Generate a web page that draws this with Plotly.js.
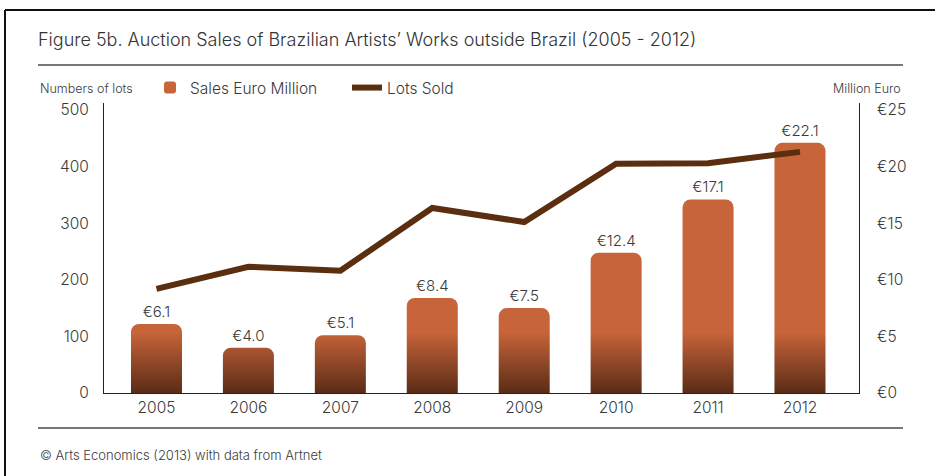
<!DOCTYPE html>
<html>
<head>
<meta charset="utf-8">
<script src="https://cdn.plot.ly/plotly-3.0.1.min.js"></script>
<style>
html,body{margin:0;padding:0;background:#fff;}
#chart{width:935px;height:476px;}
</style>
</head>
<body>
<div id="chart"></div>
<script>
const years = ["2005","2006","2007","2008","2009","2010","2011","2012"];
const salesEuroMillion = [6.1, 4.0, 5.1, 8.4, 7.5, 12.4, 17.1, 22.1];
const lotsSold = [184, 223, 216, 327, 302, 405, 406, 426];
const lotTicks = [0, 100, 200, 300, 400, 500];
const euroTicks = [0, 5, 10, 15, 20, 25];
const euroTickLabels = ["€0", "€5", "€10", "€15", "€20", "€25"];

const FONT = "Inter, 'Open Sans', sans-serif";
const TXT = "#3a3a3a";

// pixel helpers for paper coordinates (plot area: x 104..859, y 103..393)
const L = 104, R = 859, T = 103, B = 393;
const px = x => (x - L) / (R - L);
const py = y => (B - y) / (B - T);

const traces = [
  {
    type: "bar",
    name: "Sales Euro Million",
    x: years,
    y: salesEuroMillion,
    yaxis: "y",
    marker: {color: "#C8643A", cornerradius: 8, line: {width: 0}},
    text: salesEuroMillion.map(v => "€" + v.toFixed(1)),
    textposition: "outside",
    textfont: {family: FONT, size: 15, color: TXT, weight: 300},
    cliponaxis: false,
    hoverinfo: "skip"
  },
  {
    type: "scatter",
    mode: "lines",
    name: "Lots Sold",
    x: years,
    y: lotsSold,
    yaxis: "y2",
    line: {color: "#5A2E0E", width: 6},
    hoverinfo: "skip"
  }
];

const lineShape = (x0, y0, x1, y1, color, w) => ({
  type: "line", xref: "paper", yref: "paper",
  x0: px(x0), y0: py(y0), x1: px(x1), y1: py(y1),
  line: {color: color, width: w}
});

const layout = {
  width: 935, height: 476,
  margin: {l: L, r: 935 - R, t: T, b: 476 - B, pad: 0},
  paper_bgcolor: "#fff", plot_bgcolor: "rgba(0,0,0,0)",
  font: {family: FONT, color: TXT},
  showlegend: true,
  bargap: 0.445,
  title: {
    text: "Figure 5b. Auction Sales of Brazilian Artists’ Works outside Brazil (2005 - 2012)",
    font: {family: FONT, size: 18, color: "#333", weight: 300},
    x: 38 / 935, xanchor: "left", xref: "container",
    y: 1 - 40 / 476, yanchor: "middle", yref: "container"
  },
  legend: {
    orientation: "h",
    x: px(150), xanchor: "left",
    y: py(88), yanchor: "middle",
    font: {family: FONT, size: 15.5, color: TXT, weight: 300},
    bgcolor: "rgba(0,0,0,0)",
    traceorder: "normal",
    entrywidth: 152, entrywidthmode: "pixels"
  },
  xaxis: {
    type: "category",
    range: [-0.571, 7.642],
    showline: true, linecolor: "#222", linewidth: 1,
    ticks: "", showgrid: false, zeroline: false,
    tickfont: {family: FONT, size: 15.5, color: TXT, weight: 300},
    fixedrange: true
  },
  yaxis: {
    side: "right",
    range: [0, 25 * 290 / 283],
    tickvals: euroTicks, ticktext: euroTickLabels,
    showline: true, linecolor: "#222", linewidth: 1,
    ticks: "outside", ticklen: 14, tickcolor: "rgba(0,0,0,0)",
    showgrid: false, zeroline: false,
    tickfont: {family: FONT, size: 15.5, color: TXT, weight: 300},
    fixedrange: true
  },
  yaxis2: {
    overlaying: "y", side: "left",
    range: [0, 500 * 290 / 283],
    tickvals: lotTicks,
    showline: true, linecolor: "#222", linewidth: 1,
    ticks: "outside", ticklen: 11, tickcolor: "rgba(0,0,0,0)",
    showgrid: false, zeroline: false,
    tickfont: {family: FONT, size: 15.5, color: TXT, weight: 300},
    fixedrange: true
  },
  shapes: [
    lineShape(5, 10, 935, 10, "#111", 2),
    lineShape(5, 10, 5, 476, "#111", 2),
    lineShape(38, 65, 903, 65, "#777", 2),
    lineShape(38, 428, 903, 428, "#777", 2)
  ],
  annotations: [
    {text: "Numbers of lots", xref: "paper", yref: "paper", x: px(38), y: py(89),
     xanchor: "left", yanchor: "middle", showarrow: false,
     font: {family: FONT, size: 12.5, color: TXT, weight: 300}},
    {text: "Million Euro", xref: "paper", yref: "paper", x: px(903), y: py(89),
     xanchor: "right", yanchor: "middle", showarrow: false,
     font: {family: FONT, size: 12.5, color: TXT, weight: 300}},
    {text: "© Arts Economics (2013) with data from Artnet", xref: "paper", yref: "paper",
     x: px(38), y: py(455), xanchor: "left", yanchor: "middle", showarrow: false,
     font: {family: FONT, size: 13, color: TXT, weight: 300}}
  ]
};

Plotly.newPlot("chart", traces, layout, {displayModeBar: false, staticPlot: true}).then(gd => {
  const ya = gd._fullLayout.yaxis;
  const svg = gd.querySelector(".main-svg");
  const NS = "http://www.w3.org/2000/svg";
  let defs = svg.querySelector("defs");
  if (!defs) { defs = document.createElementNS(NS, "defs"); svg.insertBefore(defs, svg.firstChild); }
  const g = document.createElementNS(NS, "linearGradient");
  g.setAttribute("id", "barGrad");
  g.setAttribute("gradientUnits", "userSpaceOnUse");
  g.setAttribute("x1", "0"); g.setAttribute("x2", "0");
  g.setAttribute("y1", String(ya.l2p(5.4)));
  g.setAttribute("y2", String(ya.l2p(0)));
  [["0", "#C8643A"], ["1", "#5A2C16"]].forEach(([o, c]) => {
    const s = document.createElementNS(NS, "stop");
    s.setAttribute("offset", o); s.setAttribute("stop-color", c);
    g.appendChild(s);
  });
  defs.appendChild(g);
  gd.querySelectorAll(".barlayer .point path").forEach(p => {
    p.style.fill = "url(#barGrad)";
  });
});
</script>
</body>
</html>
